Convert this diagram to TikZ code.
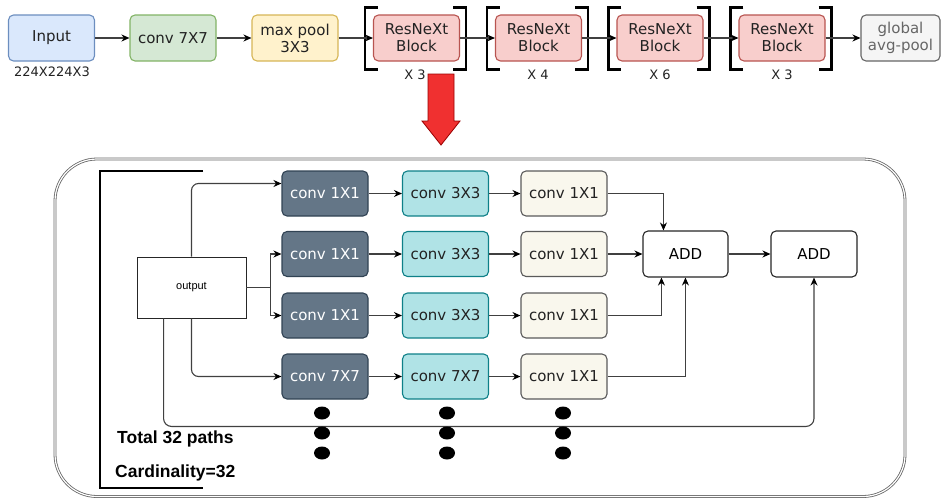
\documentclass[tikz,border=0pt]{standalone}
\usepackage{fontspec}
\setmainfont{DejaVu Sans}
\newfontfamily\arialf{Liberation Sans}
\usetikzlibrary{arrows.meta,calc}
\definecolor{inpf}{HTML}{DAE8FC}\definecolor{inpd}{HTML}{6C8EBF}
\definecolor{grnf}{HTML}{D5E8D4}\definecolor{grnd}{HTML}{82B366}
\definecolor{yelf}{HTML}{FFF2CC}\definecolor{yeld}{HTML}{D6B656}
\definecolor{redf}{HTML}{F8CECC}\definecolor{redd}{HTML}{B85450}
\definecolor{gryf}{HTML}{F5F5F5}\definecolor{gryd}{HTML}{666666}
\definecolor{dkf}{HTML}{647687}\definecolor{dkd}{HTML}{314354}
\definecolor{cyf}{HTML}{B0E3E6}\definecolor{cyd}{HTML}{0E8088}
\definecolor{crf}{HTML}{F9F7ED}\definecolor{crd}{HTML}{5A5A5A}
\definecolor{txt}{HTML}{222222}
\definecolor{bigarrow}{HTML}{F03030}
\tikzset{
  box/.style={draw, rounded corners=5pt, line width=1.1pt, minimum width=86pt, minimum height=46pt, inner sep=0pt, align=center, text=txt, font=\fontsize{15}{17}\selectfont},
  topbox/.style={box, minimum height=46pt},
  dkbox/.style={box, fill=dkf, draw=dkd, text=white, minimum height=45pt},
  cybox/.style={box, fill=cyf, draw=cyd, minimum height=45pt},
  crbox/.style={box, fill=crf, draw=crd, minimum height=45pt},
  addbox/.style={box, fill=white, draw=black!85, text=black},
  arr/.style={draw=black!75, line width=1.1pt, -{Stealth[length=8pt,width=7pt,black]}},
  ln/.style={draw=black!75, line width=1.1pt},
  brk/.style={draw=black, line width=2.2pt},
  lbl/.style={text=txt, font=\fontsize{13}{15}\selectfont, inner sep=0pt},
  boldlbl/.style={font=\arialf\bfseries\fontsize{17.5}{20}\selectfont, inner sep=0pt, anchor=west},
  dot/.style={fill=black, draw=none}
}
\newcommand\mybrk[1]{%
  \draw[brk] ($(#1.north west)+(5,-7)$) -- ++(-13,0) -- ++(0,62) -- ++(13,0);
  \draw[brk] ($(#1.north east)+(-7,-7)$) -- ++(13,0) -- ++(0,62) -- ++(-13,0);}
\begin{document}
\begin{tikzpicture}[x=1pt,y=-1pt]
\useasboundingbox (0,0) rectangle (941,498);
% top row
\node[topbox, fill=inpf, draw=inpd] (inp) at (51.5,38) {Input};
\node[lbl] (inl) at (52,72) {224X224X3};
\node[topbox, fill=grnf, draw=grnd] (c7) at (173,38) {conv 7X7};
\node[topbox, fill=yelf, draw=yeld] (mp) at (295,38) {max pool\\3X3};
\node[topbox, fill=redf, draw=redd] (rb1) at (416.5,38) {ResNeXt\\Block};
\node[topbox, fill=redf, draw=redd] (rb2) at (538.5,38) {ResNeXt\\Block};
\node[topbox, fill=redf, draw=redd] (rb3) at (660,38) {ResNeXt\\Block};
\node[topbox, fill=redf, draw=redd] (rb4) at (782,38) {ResNeXt\\Block};
\node[topbox, fill=gryf, draw=gryd, text=gryd, minimum width=79pt] (gap) at (900.5,38) {global\\avg-pool};
\mybrk{rb1}\mybrk{rb2}\mybrk{rb3}\mybrk{rb4}
\node[lbl] (x1) at (415,75) {X 3};
\node[lbl] (x2) at (538,75) {X 4};
\node[lbl] (x3) at (660,75) {X 6};
\node[lbl] (x4) at (782,75) {X 3};
\draw[arr] (inp) -- (c7);
\draw[arr] (c7) -- (mp);
\draw[arr] (mp) -- (rb1);
\draw[arr] (rb1) -- (rb2);
\draw[arr] (rb2) -- (rb3);
\draw[arr] (rb3) -- (rb4);
\draw[arr] (rb4) -- (gap);
% red arrow
\draw[fill=bigarrow, draw=red!60!black, line width=0.8pt] (428,74) -- (454,74) -- (454,121) -- (460,121) -- (441,145) -- (422,121) -- (428,121) -- cycle;
% big block
\draw[draw=black!60, line width=0.8pt, double=white, double distance=1.2pt, rounded corners=42pt] (55,159) rectangle (905,496.5);
\draw[brk, line width=2pt] (203,171) -- (100,171) -- (100,488) -- (203,488);
\node[draw=black!85, line width=0.9pt, minimum width=109pt, minimum height=61pt, inner sep=0pt, font=\arialf\fontsize{11}{13}\selectfont] (out) at (191.5,287.5) {output};
\node[dkbox] (c11) at (325,193.5) {conv 1X1};
\node[dkbox] (c21) at (325,254) {conv 1X1};
\node[dkbox] (c31) at (325,315.5) {conv 1X1};
\node[dkbox] (c41) at (325,376.5) {conv 7X7};
\node[cybox] (c12) at (445.5,193.5) {conv 3X3};
\node[cybox] (c22) at (445.5,254) {conv 3X3};
\node[cybox] (c32) at (445.5,315.5) {conv 3X3};
\node[cybox] (c42) at (445.5,376.5) {conv 7X7};
\node[crbox] (c13) at (564,193.5) {conv 1X1};
\node[crbox] (c23) at (564,254) {conv 1X1};
\node[crbox] (c33) at (564,315.5) {conv 1X1};
\node[crbox] (c43) at (564,376.5) {conv 1X1};
\node[addbox, minimum width=85pt] (add1) at (685.5,254) {ADD};
\node[addbox] (add2) at (814,254) {ADD};
% connectors
\draw[arr, rounded corners=7pt] (out.north) |- ($(c11.west)+(0,-10)$);
\coordinate (br) at ($(out.east)+(24,0)$);
\draw[ln] (out.east) -- (br);
\draw[arr] (br) |- (c21.west);
\draw[arr] (br) |- (c31.west);
\draw[arr, rounded corners=7pt] (out.south) |- (c41.west);
\draw[arr, rounded corners=8pt] ($(out.south west)+(27,0)$) -- ++(0,108) -| (add2.south);
\foreach \r in {1,2,3,4}{
  \draw[arr] (c\r1) -- (c\r2);
  \draw[arr] (c\r2) -- (c\r3);
}
\draw[arr] (c13.east) -| ($(add1.north west)+(21,0)$);
\draw[arr] (c23.east) -- (add1.west);
\draw[arr] (c33.east) -| ($(add1.south west)+(19,0)$);
\draw[arr] (c43.east) -| ($(add1.south west)+(43,0)$);
\draw[arr] (add1) -- (add2);
% dots
\foreach \x in {322,447,563}{
  \foreach \y in {413,433,453}{
    \fill[dot] (\x,\y) ellipse [x radius=8pt, y radius=6.5pt];
  }
}
\node[boldlbl] (tp) at (117,439) {Total 32 paths};
\node[boldlbl] (card) at (115,473) {Cardinality=32};
\end{tikzpicture}
\end{document}
